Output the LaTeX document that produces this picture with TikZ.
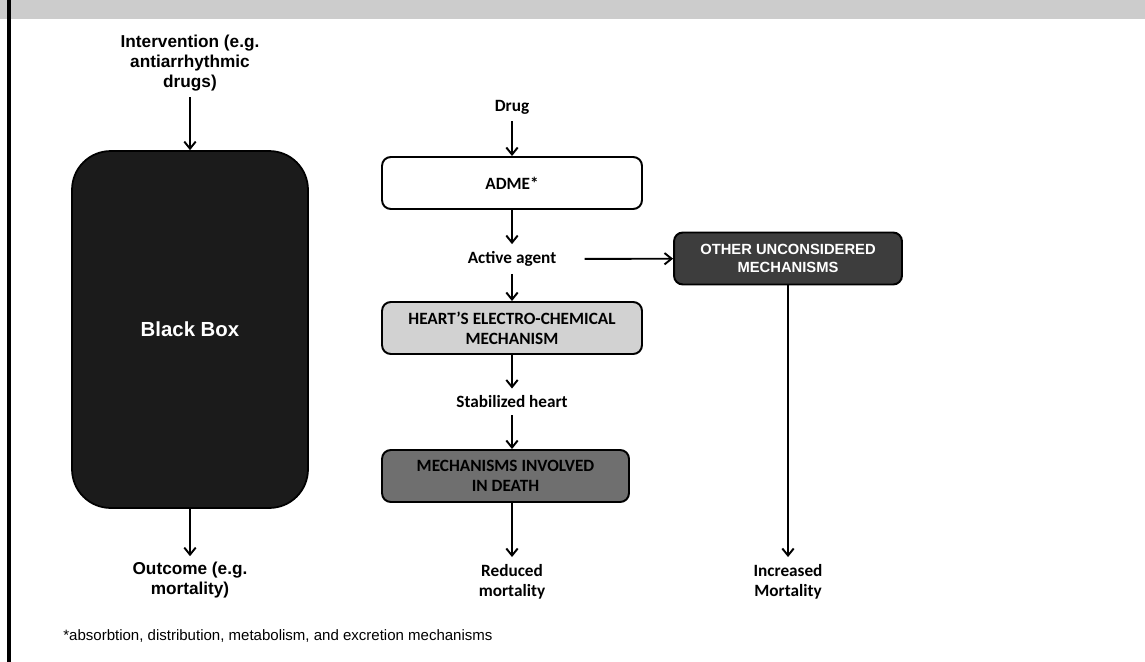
\documentclass[tikz,border=0pt]{standalone}
\usepackage{fontspec}
\setmainfont{Liberation Sans}
\newfontfamily\calibri{Carlito}
\usetikzlibrary{arrows.meta,positioning}
\definecolor{bandgray}{HTML}{CCCCCC}
\definecolor{boxblack}{HTML}{1B1B1B}
\definecolor{othergray}{HTML}{3D3D3D}
\definecolor{heartgray}{HTML}{D2D2D2}
\definecolor{deathgray}{HTML}{6F6F6F}
\begin{document}
\begin{tikzpicture}[x=0.02cm,y=-0.02cm,
  arr/.style={-{Straight Barb[length=4pt,width=6.5pt]},line width=1.1pt},
  lbl/.style={font=\bfseries\fontsize{9.8}{11.6}\selectfont,align=center,inner sep=3pt},
  clbl/.style={font=\calibri\bfseries\fontsize{9.8}{11.6}\selectfont,align=center,inner sep=4pt},
  mbox/.style={draw,line width=1.1pt,rounded corners=5pt,minimum width=5.2cm,minimum height=1.04cm,align=center}]
\useasboundingbox (0,0) rectangle (1145,662);
% header band and left rule
\fill[bandgray] (0,0) rectangle (1145,19);
\draw[line width=2pt] (9,0) -- (9,662);

% black box side
\node[lbl] (interv) at (190,63) {Intervention (e.g.\\antiarrhythmic\\drugs)};
\node[draw,fill=boxblack,line width=1pt,rounded corners=22pt,minimum width=4.72cm,minimum height=7.14cm,
      text=white,font=\bfseries\fontsize{11.6}{13}\selectfont] (bbox) at (190,329.5) {Black Box};
\node[lbl] (outcome) at (190,580) {Outcome (e.g.\\mortality)};
\draw[arr] (interv) -- (bbox);
\draw[arr] (bbox) -- (outcome);

% mechanistic side
\node[clbl] (drug) at (512,107) {Drug};
\node[mbox,fill=white,font=\calibri\bfseries\fontsize{9.8}{11.6}\selectfont] (adme) at (512,183) {ADME*};
\node[clbl] (agent) at (512,259) {Active agent};
\node[mbox,fill=heartgray,font=\calibri\bfseries\fontsize{9.8}{11.6}\selectfont] (heart) at (512,328) {HEART’S ELECTRO-CHEMICAL\\MECHANISM};
\node[clbl] (stable) at (512,402) {Stabilized heart};
\node[mbox,fill=deathgray,minimum width=4.94cm,font=\calibri\bfseries\fontsize{9.8}{11.6}\selectfont] (death) at (505.5,476) {MECHANISMS INVOLVED\\IN DEATH};
\node[clbl] (reduced) at (512,582) {Reduced\\mortality};
\node[mbox,fill=othergray,text=white,minimum width=4.56cm,font=\bfseries\fontsize{8.4}{10}\selectfont] (other) at (788,258.5) {OTHER UNCONSIDERED\\MECHANISMS};
\node[clbl] (increased) at (788,582) {Increased\\Mortality};

\draw[arr] (drug) -- (adme);
\draw[arr] (adme) -- (agent);
\draw[arr] (agent) -- (heart);
\draw[arr] (heart) -- (stable);
\draw[arr] (stable) -- (death.north -| stable);
\draw[arr] (death.south -| reduced) -- (reduced);
\draw[arr,shorten <=12pt] (agent) -- (other);
\draw[arr] (other) -- (increased);

\node[anchor=west,font=\fontsize{8.55}{10}\selectfont,inner sep=0pt] (note) at (63,636)
  {*absorbtion, distribution, metabolism, and excretion mechanisms};
\end{tikzpicture}
\end{document}
